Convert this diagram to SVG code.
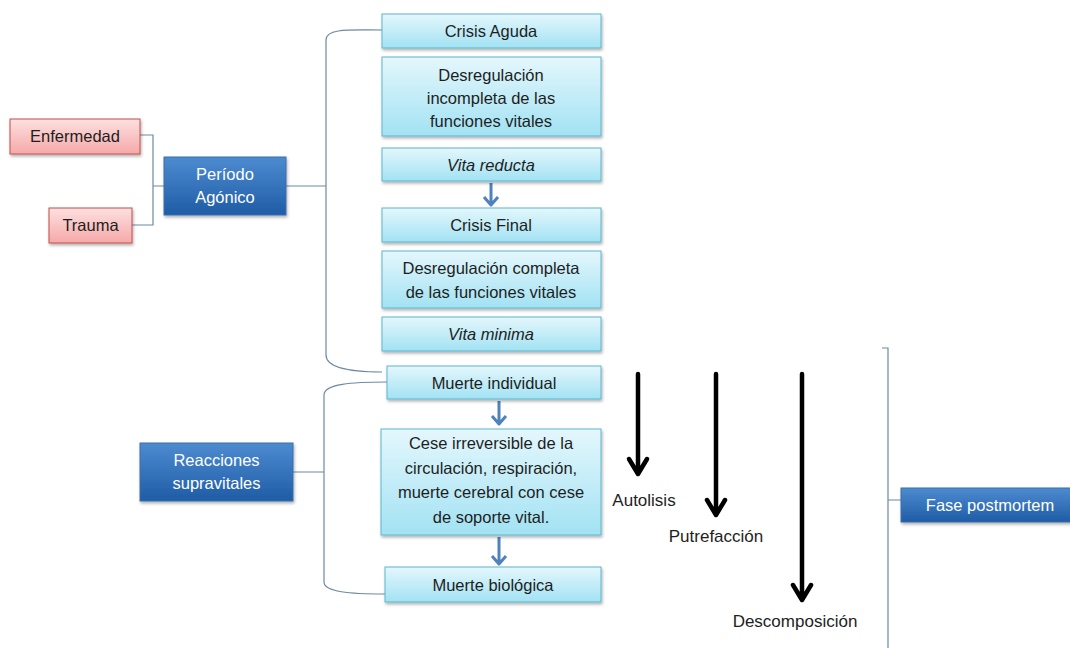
<svg xmlns="http://www.w3.org/2000/svg" width="1070" height="648" viewBox="0 0 1070 648">
<defs>
<linearGradient id="gc" x1="0" y1="0" x2="0" y2="1"><stop offset="0" stop-color="#e4f7fc"/><stop offset="1" stop-color="#a2e2f3"/></linearGradient>
<linearGradient id="gb" x1="0" y1="0" x2="0" y2="1"><stop offset="0" stop-color="#4d8bd0"/><stop offset="1" stop-color="#1f5ca6"/></linearGradient>
<linearGradient id="gr" x1="0" y1="0" x2="0" y2="1"><stop offset="0" stop-color="#fde0e0"/><stop offset="1" stop-color="#f5a9a8"/></linearGradient>
<filter id="sh" x="-10%" y="-20%" width="120%" height="150%"><feDropShadow dx="1" dy="2" stdDeviation="1.5" flood-color="#000" flood-opacity="0.3"/></filter>
</defs>
<style>
.c{fill:url(#gc);stroke:#5fb5cc;stroke-width:1;filter:url(#sh)}
.b{fill:url(#gb);stroke:#3b6fa8;stroke-width:1;filter:url(#sh)}
.r{fill:url(#gr);stroke:#c0504d;stroke-width:1;filter:url(#sh)}
text{font-family:"Liberation Sans",Arial,sans-serif;font-size:16.5px;text-anchor:middle;fill:#1e1e1e}
.w{fill:#fff}
.i{font-style:italic}
.t{font-size:17px}
.l{fill:none;stroke:#6d8aa3;stroke-width:1.2}
.ba{stroke:#4f81bd;stroke-width:3;fill:none;stroke-linejoin:round}
.k{stroke:#000;stroke-width:4.5;fill:none;stroke-linecap:round;stroke-linejoin:round}
</style>
<g id="connectors">
<path class="l" d="M140,135 H153 V225 H132 M153,186 H164"/>
<path class="l" d="M382,30 C350,30 326,28 326,40 V355 C326,368 350,372 382,372 M286,186 H326"/>
<path class="l" d="M387,382 C352,382 324,384 324,395 V582 C324,592 350,594 385,594 M293,472 H324"/>
<path class="l" d="M882,348 H888 V648 M888,500 H901"/>
<path class="ba" d="M491,183 V205 M484,197 L491,205 L498,197"/>
<path class="ba" d="M499,401 V424 M492,416 L499,424 L506,416"/>
<path class="ba" d="M499,537 V564 M492,556 L499,564 L506,556"/>
<path class="k" d="M638,374 V474 M629,459 L638,474 L647,459"/>
<path class="k" d="M716,374 V515 M707,500 L716,515 L725,500"/>
<path class="k" d="M802,374 V600 M793,585 L802,600 L811,585"/>
</g>
<g id="enfermedad"><rect class="r" x="10" y="119" width="130" height="35"/><text x="75" y="142">Enfermedad</text></g>
<g id="trauma"><rect class="r" x="49" y="208" width="83" height="35"/><text x="90.5" y="231">Trauma</text></g>
<g id="periodo"><rect class="b" x="164" y="157" width="122" height="58"/><text class="w" x="225" y="180">Período</text><text class="w" x="225" y="203">Agónico</text></g>
<g id="crisis-aguda"><rect class="c" x="382" y="14" width="219" height="34"/><text x="491" y="37">Crisis Aguda</text></g>
<g id="desreg-incompleta"><rect class="c" x="382" y="57" width="219" height="79"/><text x="491" y="81">Desregulación</text><text x="491" y="104">incompleta de las</text><text x="491" y="127">funciones vitales</text></g>
<g id="vita-reducta"><rect class="c" x="382" y="148" width="219" height="33"/><text class="i" x="491" y="171">Vita reducta</text></g>
<g id="crisis-final"><rect class="c" x="382" y="208" width="219" height="34"/><text x="491" y="231">Crisis Final</text></g>
<g id="desreg-completa"><rect class="c" x="382" y="251" width="219" height="57"/><text x="491" y="274">Desregulación completa</text><text x="491" y="298">de las funciones vitales</text></g>
<g id="vita-minima"><rect class="c" x="382" y="317" width="219" height="34"/><text class="i" x="491" y="340">Vita minima</text></g>
<g id="muerte-individual"><rect class="c" x="387" y="366" width="214" height="33"/><text x="494" y="389">Muerte individual</text></g>
<g id="cese"><rect class="c" x="381" y="429" width="220" height="106"/><text x="491" y="449">Cese irreversible de la</text><text x="491" y="474">circulación, respiración,</text><text x="491" y="498">muerte cerebral con cese</text><text x="491" y="523">de soporte vital.</text></g>
<g id="muerte-biologica"><rect class="c" x="385" y="567" width="216" height="35"/><text x="493" y="591">Muerte biológica</text></g>
<g id="reacciones"><rect class="b" x="140" y="443" width="153" height="58"/><text class="w" x="216.5" y="466">Reacciones</text><text class="w" x="216.5" y="489">supravitales</text></g>
<g id="fase-postmortem"><rect class="b" x="901" y="488" width="175" height="34"/><text class="w" x="990" y="511">Fase postmortem</text></g>
<g id="labels"><text class="t" x="644" y="506">Autolisis</text><text class="t" x="716" y="542">Putrefacción</text><text class="t" x="795" y="627">Descomposición</text></g>
</svg>
